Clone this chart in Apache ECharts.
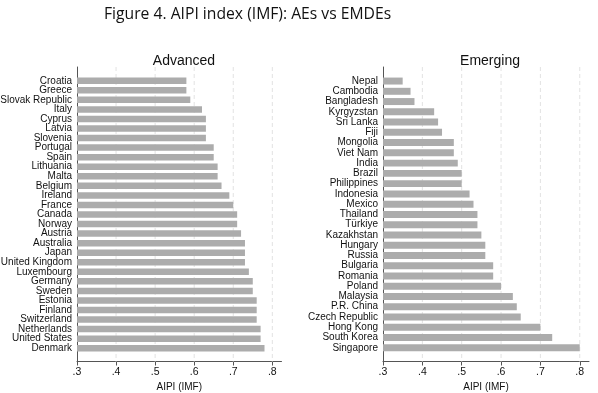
<!DOCTYPE html>
<html><head><meta charset="utf-8">
<script src="https://cdn.jsdelivr.net/npm/echarts@6/dist/echarts.min.js"></script>
<style>html,body{margin:0;padding:0;background:#fff}#c{width:598px;height:393px}</style>
</head><body><div id="c"></div>
<script>
const advCats = ["Croatia","Greece","Slovak Republic","Italy","Cyprus","Latvia","Slovenia","Portugal","Spain","Lithuania","Malta","Belgium","Ireland","France","Canada","Norway","Austria","Australia","Japan","United Kingdom","Luxembourg","Germany","Sweden","Estonia","Finland","Switzerland","Netherlands","United States","Denmark"];
const advVals = [0.58,0.58,0.59,0.62,0.63,0.63,0.63,0.65,0.65,0.66,0.66,0.67,0.69,0.70,0.71,0.71,0.72,0.73,0.73,0.73,0.74,0.75,0.75,0.76,0.76,0.76,0.77,0.77,0.78];
const emeCats = ["Nepal","Cambodia","Bangladesh","Kyrgyzstan","Sri Lanka","Fiji","Mongolia","Viet Nam","India","Brazil","Philippines","Indonesia","Mexico","Thailand","Türkiye","Kazakhstan","Hungary","Russia","Bulgaria","Romania","Poland","Malaysia","P.R. China","Czech Republic","Hong Kong","South Korea","Singapore"];
const emeVals = [0.35,0.37,0.38,0.43,0.44,0.45,0.48,0.48,0.49,0.50,0.50,0.52,0.53,0.54,0.54,0.55,0.56,0.56,0.58,0.58,0.60,0.63,0.64,0.65,0.70,0.73,0.80];
const xTicks = [0.3,0.4,0.5,0.6,0.7,0.8];
const xGrid = [0.4,0.5,0.6,0.7,0.8];

const chart = echarts.init(document.getElementById('c'));
const font = 'Liberation Sans, Arial, Helvetica, sans-serif';
const axisCol = '#555';
const X_MIN = 0.3, X_MAX = 0.8235;

function frameX(gi){
  return {
    type:'value', gridIndex:gi, min:X_MIN, max:X_MAX, position:'bottom',
    axisLine:{show:true,onZero:false,lineStyle:{color:axisCol,width:1}},
    axisTick:{show:true,length:4,lineStyle:{color:axisCol},customValues:xTicks},
    axisLabel:{customValues:xTicks,color:'#111',fontFamily:font,fontSize:10.5,margin:5,
      formatter:v=>String(Math.round(v*10)/10).replace(/^0/,'')},
    splitLine:{show:false},
    name:'AIPI (IMF)', nameLocation:'middle', nameGap:21,
    nameTextStyle:{color:'#111',fontFamily:font,fontSize:10}
  };
}
function frameY(gi){
  return {type:'value', gridIndex:gi, min:0, max:1,
    axisLine:{show:true,onZero:false,lineStyle:{color:axisCol,width:1}},
    axisTick:{show:false}, axisLabel:{show:false}, splitLine:{show:false}};
}
function barX(gi){
  return {type:'value', gridIndex:gi, min:X_MIN, max:X_MAX, show:false,
    axisLine:{show:false}, axisTick:{show:false}, axisLabel:{show:false}, splitLine:{show:false}};
}
function barY(gi, cats){
  return {type:'category', gridIndex:gi, data:cats, inverse:true,
    axisLine:{show:false}, axisTick:{show:false}, splitLine:{show:false},
    axisLabel:{interval:0, color:'#111', fontFamily:font, fontSize:10, margin:5}};
}
function gridLines(gi){
  return {
    type:'custom', xAxisIndex:gi, yAxisIndex:gi,
    data: xGrid.map(v=>[v]),
    renderItem(params, api){
      const v = api.value(0);
      const t = api.coord([v, 1]), b = api.coord([v, 0]);
      return {type:'line', shape:{x1:t[0], y1:t[1], x2:b[0], y2:b[1]},
        style:{stroke:'#e2e2e2', lineWidth:1, lineDash:[4,3]}};
    },
    silent:true, z:1
  };
}
function bars(gi, vals){
  return {type:'bar', xAxisIndex:gi, yAxisIndex:gi, data:vals, barWidth:'68%',
    itemStyle:{color:'#acacac'}, silent:true, z:3};
}

const top0 = 67, h0 = 294.5;
const advPadT = 1.44, advPadB = 1.39, emePadT = 1.37, emePadB = 1.34;
const advBand = h0/(advCats.length-1+advPadT+advPadB);
const emeBand = h0/(emeCats.length-1+emePadT+emePadB);
const g = (o)=>Object.assign({outerBoundsMode:'none', containLabel:false}, o);

chart.setOption({
  animation:false,
  backgroundColor:'#fff',
  title:[
    {text:'Figure 4. AIPI index (IMF): AEs vs EMDEs', left:99, top:2,
      textStyle:{fontFamily:'Open Sans, Noto Sans, sans-serif', fontWeight:'normal', fontSize:15.7, color:'#111'}},
    {text:'Advanced', left:179, top:49, textAlign:'center',
      textStyle:{fontFamily:font, fontWeight:'normal', fontSize:14, color:'#111'}},
    {text:'Emerging', left:485, top:49, textAlign:'center',
      textStyle:{fontFamily:font, fontWeight:'normal', fontSize:14, color:'#111'}}
  ],
  grid:[
    g({left:77, width:204.5, top:top0, height:h0}),
    g({left:383, width:206, top:top0, height:h0}),
    g({left:77, width:204.5, top:top0+(advPadT-0.5)*advBand, height:advCats.length*advBand}),
    g({left:383, width:206, top:top0+(emePadT-0.5)*emeBand, height:emeCats.length*emeBand})
  ],
  xAxis:[frameX(0), frameX(1), barX(2), barX(3)],
  yAxis:[frameY(0), frameY(1), barY(2, advCats), barY(3, emeCats)],
  series:[
    gridLines(0), gridLines(1),
    bars(2, advVals), bars(3, emeVals)
  ]
});
</script></body></html>
